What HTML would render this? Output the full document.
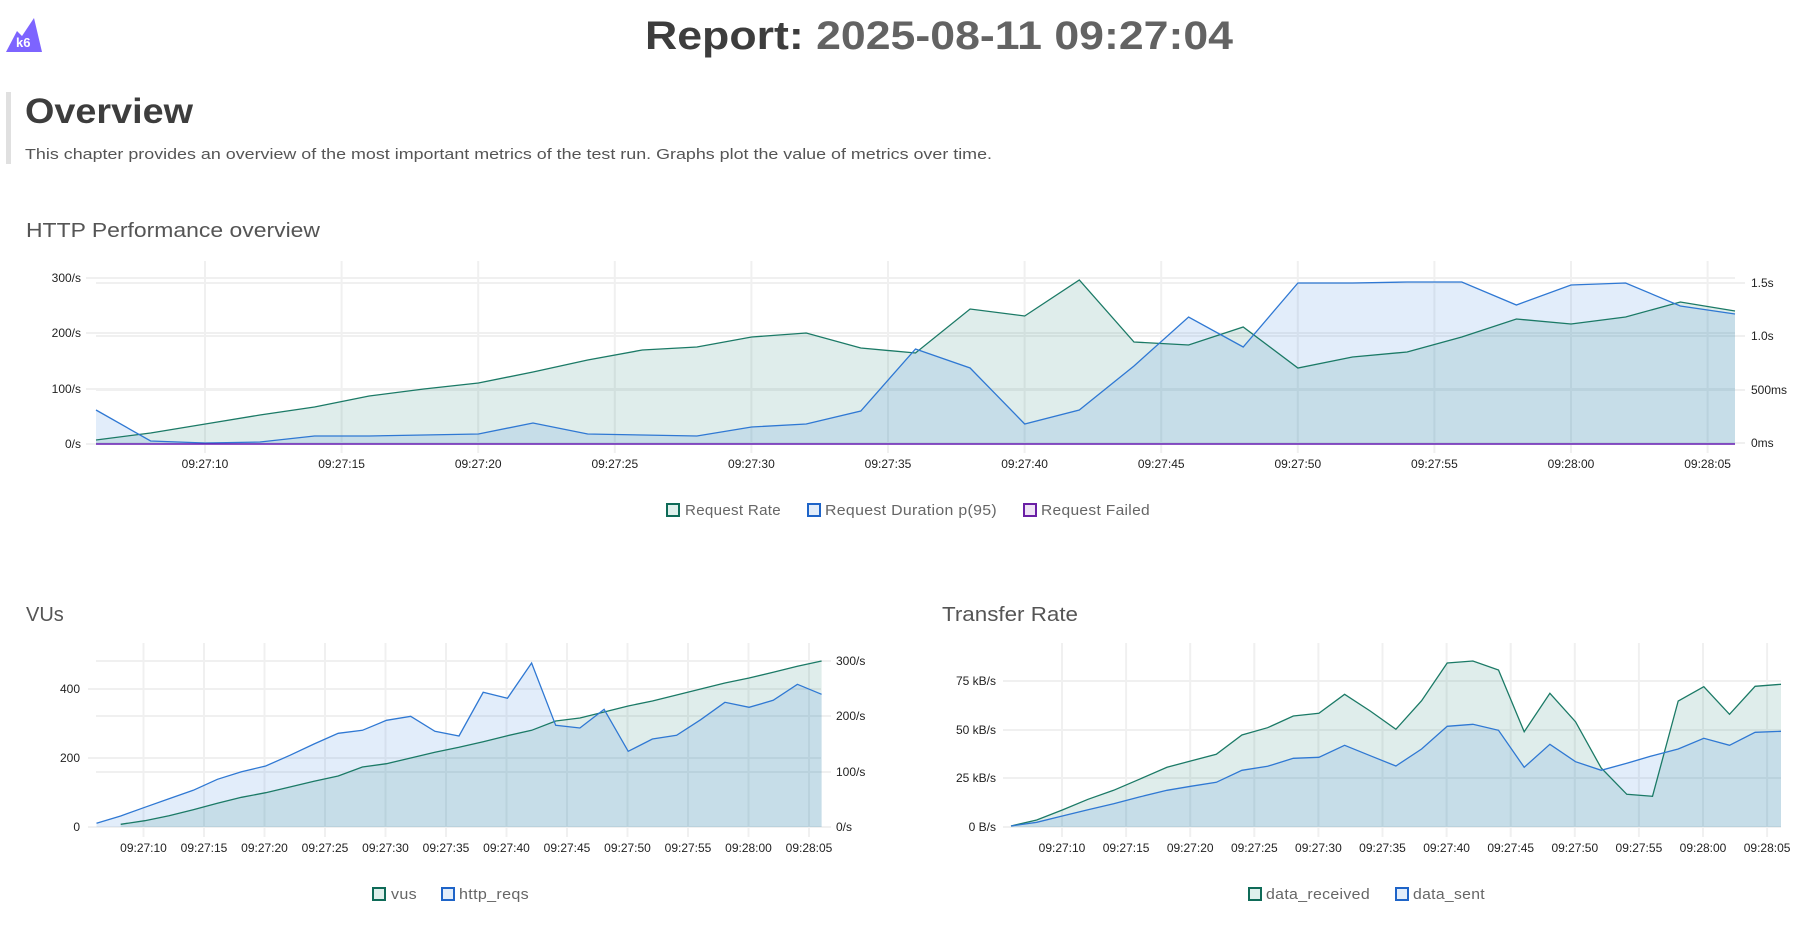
<!DOCTYPE html>
<html><head><meta charset="utf-8"><style>
html,body{margin:0;padding:0;background:#fff;}
svg{display:block;font-family:"Liberation Sans",sans-serif;}
.g{stroke:#f0f0f0;stroke-width:2;fill:none}
.t{font-size:12px;fill:#222}
.lg{font-size:15px;fill:#666;letter-spacing:0.3px}
.gf{fill:rgb(0,115,95);fill-opacity:0.125;stroke:none}
.bf{fill:rgb(23,111,215);fill-opacity:0.125;stroke:none}
.gl{fill:none;stroke:#1b7a66;stroke-width:1.3}
.bl{fill:none;stroke:#2f78d3;stroke-width:1.3}
</style></head><body>
<svg width="1804" height="951" viewBox="0 0 1804 951" xmlns="http://www.w3.org/2000/svg">
<!-- logo -->
<path d="M6,52 L17,31 L22,36 L34,18 L42,52 Z" fill="#7d64ff"/>
<text x="16" y="47" font-size="13" font-weight="bold" fill="#fff">k6</text>
<text x="645" y="49" font-size="40" font-weight="bold" textLength="588" lengthAdjust="spacingAndGlyphs"><tspan fill="#3d3d3d">Report:</tspan><tspan fill="#636363"> 2025-08-11 09:27:04</tspan></text>
<rect x="6" y="92" width="5" height="72" fill="#e0e0e0"/>
<text x="25" y="123" font-size="35" font-weight="bold" fill="#3d3d3d" textLength="168" lengthAdjust="spacingAndGlyphs">Overview</text>
<text x="25" y="159" font-size="15" fill="#555" textLength="967" lengthAdjust="spacingAndGlyphs">This chapter provides an overview of the most important metrics of the test run. Graphs plot the value of metrics over time.</text>
<text x="26" y="237" font-size="20" fill="#555" textLength="294" lengthAdjust="spacingAndGlyphs">HTTP Performance overview</text>

<!-- top chart grid -->
<g class="g">
<path d="M205,261V453M341.6,261V453M478.2,261V453M614.8,261V453M751.4,261V453M888,261V453M1024.6,261V453M1161.2,261V453M1297.8,261V453M1434.4,261V453M1571,261V453M1707.6,261V453"/>
<path d="M86,278H1735M86,333H1735M86,389H1735M86,444H1735"/>
<path d="M96,283H1745M96,336H1745M96,390H1745M96,443H1745"/>
</g>
<g class="t" text-anchor="end"><text x="81" y="282">300/s</text><text x="81" y="337">200/s</text><text x="81" y="393">100/s</text><text x="81" y="448">0/s</text></g>
<g class="t"><text x="1751" y="287">1.5s</text><text x="1751" y="340">1.0s</text><text x="1751" y="394">500ms</text><text x="1751" y="447">0ms</text></g>
<g class="t" text-anchor="middle">
<text x="205" y="468">09:27:10</text><text x="341.6" y="468">09:27:15</text><text x="478.2" y="468">09:27:20</text><text x="614.8" y="468">09:27:25</text><text x="751.4" y="468">09:27:30</text><text x="888" y="468">09:27:35</text><text x="1024.6" y="468">09:27:40</text><text x="1161.2" y="468">09:27:45</text><text x="1297.8" y="468">09:27:50</text><text x="1434.4" y="468">09:27:55</text><text x="1571" y="468">09:28:00</text><text x="1707.6" y="468">09:28:05</text>
</g>
<path class="gf" d="M96,444 L96,440 150.6,433 205.3,424 259.9,415 314.5,407 369.2,396 423.8,389 478.4,383 533,372 587.7,360 642.3,350 696.9,347 751.6,337 806.2,333 860.8,348 915.5,353 970.1,309 1024.7,316 1079.3,280 1134,342 1188.6,345 1243.2,327 1297.9,368 1352.5,357 1407.1,352 1461.8,337 1516.4,319 1571,324 1625.6,317 1680.3,302 1735,311 L1735,444Z"/>
<path class="bf" d="M96,444 L96,410 150.6,441 205.3,443 259.9,442 314.5,436 369.2,436 423.8,435 478.4,434 533,423 587.7,434 642.3,435 696.9,436 751.6,427 806.2,424 860.8,411 915.5,349 970.1,368 1024.7,424 1079.3,410 1134,366 1188.6,317 1243.2,347 1297.9,283 1352.5,283 1407.1,282 1461.8,282 1516.4,305 1571,285 1625.6,283 1680.3,306 1735,314 L1735,444Z"/>
<path class="gl" d="M96,440 150.6,433 205.3,424 259.9,415 314.5,407 369.2,396 423.8,389 478.4,383 533,372 587.7,360 642.3,350 696.9,347 751.6,337 806.2,333 860.8,348 915.5,353 970.1,309 1024.7,316 1079.3,280 1134,342 1188.6,345 1243.2,327 1297.9,368 1352.5,357 1407.1,352 1461.8,337 1516.4,319 1571,324 1625.6,317 1680.3,302 1735,311"/>
<path class="bl" d="M96,410 150.6,441 205.3,443 259.9,442 314.5,436 369.2,436 423.8,435 478.4,434 533,423 587.7,434 642.3,435 696.9,436 751.6,427 806.2,424 860.8,411 915.5,349 970.1,368 1024.7,424 1079.3,410 1134,366 1188.6,317 1243.2,347 1297.9,283 1352.5,283 1407.1,282 1461.8,282 1516.4,305 1571,285 1625.6,283 1680.3,306 1735,314"/>
<path d="M96,444H1735" stroke="#6a1fb5" stroke-width="1.5"/>
<!-- top legend -->
<rect x="667" y="504" width="12" height="12" fill="#dff0ec" stroke="#0f6b58" stroke-width="2"/>
<text class="lg" x="685" y="515" textLength="96" lengthAdjust="spacingAndGlyphs">Request Rate</text>
<rect x="808" y="504" width="12" height="12" fill="#e2edfa" stroke="#1e64c8" stroke-width="2"/>
<text class="lg" x="825" y="515" textLength="172" lengthAdjust="spacingAndGlyphs">Request Duration p(95)</text>
<rect x="1024" y="504" width="12" height="12" fill="#efe3f6" stroke="#6a1fa5" stroke-width="2"/>
<text class="lg" x="1041" y="515" textLength="109" lengthAdjust="spacingAndGlyphs">Request Failed</text>

<!-- VUs -->
<text x="26" y="621" font-size="20" fill="#555">VUs</text>
<g class="g">
<path d="M143.5,643V837M204,643V837M264.5,643V837M325,643V837M385.5,643V837M446,643V837M506.5,643V837M567,643V837M627.5,643V837M688,643V837M748.5,643V837M809,643V837"/>
<path d="M88,689H821M88,758H821M88,827H821"/>
<path d="M96,661H831M96,716H831M96,772H831M96,827H831"/>
</g>
<g class="t" text-anchor="end"><text x="80" y="693">400</text><text x="80" y="762">200</text><text x="80" y="831">0</text></g>
<g class="t"><text x="836" y="665">300/s</text><text x="836" y="720">200/s</text><text x="836" y="776">100/s</text><text x="836" y="831">0/s</text></g>
<g class="t" text-anchor="middle">
<text x="143.5" y="852">09:27:10</text><text x="204" y="852">09:27:15</text><text x="264.5" y="852">09:27:20</text><text x="325" y="852">09:27:25</text><text x="385.5" y="852">09:27:30</text><text x="446" y="852">09:27:35</text><text x="506.5" y="852">09:27:40</text><text x="567" y="852">09:27:45</text><text x="627.5" y="852">09:27:50</text><text x="688" y="852">09:27:55</text><text x="748.5" y="852">09:28:00</text><text x="809" y="852">09:28:05</text>
</g>
<path class="gf" d="M120.7,827 L120.7,824.3 144.8,820.7 169,815.7 193.2,809.7 217.4,803.3 241.5,797.3 265.7,792.7 289.9,787 314,781.3 338.2,776 362.4,767 386.5,763.7 410.7,758 434.9,752.3 459,747.3 483.2,741.7 507.4,735.7 531.6,730.3 555.7,721 579.9,718 604.1,712 628.2,706 652.4,701 676.6,695 700.7,689 724.9,683 749.1,678 773.2,672.3 797.4,666.3 821.6,661 L821.6,827Z"/>
<path class="bf" d="M96.5,827 L96.5,823.3 120.7,816 144.8,807.3 169,798.7 193.2,790.3 217.4,779.3 241.5,771.7 265.7,766 289.9,755.3 314,744 338.2,733.3 362.4,730.3 386.5,720.3 410.7,716.3 434.9,731.3 459,736 483.2,692.3 507.4,698.3 531.6,663 555.7,725.3 579.9,728 604.1,709.3 628.2,751.3 652.4,739 676.6,735.3 700.7,719.7 724.9,702.3 749.1,707.3 773.2,700.3 797.4,684.3 821.6,694.3 L821.6,827Z"/>
<path class="gl" d="M120.7,824.3 144.8,820.7 169,815.7 193.2,809.7 217.4,803.3 241.5,797.3 265.7,792.7 289.9,787 314,781.3 338.2,776 362.4,767 386.5,763.7 410.7,758 434.9,752.3 459,747.3 483.2,741.7 507.4,735.7 531.6,730.3 555.7,721 579.9,718 604.1,712 628.2,706 652.4,701 676.6,695 700.7,689 724.9,683 749.1,678 773.2,672.3 797.4,666.3 821.6,661"/>
<path class="bl" d="M96.5,823.3 120.7,816 144.8,807.3 169,798.7 193.2,790.3 217.4,779.3 241.5,771.7 265.7,766 289.9,755.3 314,744 338.2,733.3 362.4,730.3 386.5,720.3 410.7,716.3 434.9,731.3 459,736 483.2,692.3 507.4,698.3 531.6,663 555.7,725.3 579.9,728 604.1,709.3 628.2,751.3 652.4,739 676.6,735.3 700.7,719.7 724.9,702.3 749.1,707.3 773.2,700.3 797.4,684.3 821.6,694.3"/>
<rect x="373" y="888" width="12" height="12" fill="#dff0ec" stroke="#0f6b58" stroke-width="2"/>
<text class="lg" x="391" y="899" textLength="26" lengthAdjust="spacingAndGlyphs">vus</text>
<rect x="442" y="888" width="12" height="12" fill="#e2edfa" stroke="#1e64c8" stroke-width="2"/>
<text class="lg" x="459" y="899" textLength="70" lengthAdjust="spacingAndGlyphs">http_reqs</text>

<!-- Transfer Rate -->
<text x="942" y="621" font-size="20" fill="#555" textLength="136" lengthAdjust="spacingAndGlyphs">Transfer Rate</text>
<g class="g">
<path d="M1062,643V837M1126.1,643V837M1190.2,643V837M1254.3,643V837M1318.4,643V837M1382.5,643V837M1446.6,643V837M1510.7,643V837M1574.8,643V837M1638.9,643V837M1703,643V837M1767.1,643V837"/>
<path d="M1003,681H1781M1003,730H1781M1003,778H1781M1003,827H1781"/>
</g>
<g class="t" text-anchor="end"><text x="996" y="685">75 kB/s</text><text x="996" y="734">50 kB/s</text><text x="996" y="782">25 kB/s</text><text x="996" y="831">0 B/s</text></g>
<g class="t" text-anchor="middle">
<text x="1062" y="852">09:27:10</text><text x="1126.1" y="852">09:27:15</text><text x="1190.2" y="852">09:27:20</text><text x="1254.3" y="852">09:27:25</text><text x="1318.4" y="852">09:27:30</text><text x="1382.5" y="852">09:27:35</text><text x="1446.6" y="852">09:27:40</text><text x="1510.7" y="852">09:27:45</text><text x="1574.8" y="852">09:27:50</text><text x="1638.9" y="852">09:27:55</text><text x="1703" y="852">09:28:00</text><text x="1767.1" y="852">09:28:05</text>
</g>
<path class="gf" d="M1011,827 L1011,826 1036.7,820 1062.3,810 1088,799.3 1113.6,790.3 1139.3,779.3 1167,767.3 1190.6,761 1216.3,754.3 1241.9,735 1267.6,727.7 1293.3,716 1318.9,713.3 1344.6,694.3 1370.2,711 1395.9,729.3 1421.6,700.7 1447.2,663 1472.9,661 1498.5,670 1524.2,731.7 1549.9,693.3 1575.5,721.7 1601.2,768 1626.8,794.3 1652.5,796.3 1678.2,701 1703.8,686.7 1729.5,714.3 1755.1,686.3 1781,684.3 L1781,827Z"/>
<path class="bf" d="M1011,827 L1011,826 1036.7,822.3 1062.3,816 1088,809.7 1113.6,803.7 1139.3,797 1167,790.3 1190.6,786.3 1216.3,782.3 1241.9,770.3 1267.6,766.3 1293.3,758.3 1318.9,757.3 1344.6,745.3 1370.2,755.7 1395.9,766 1421.6,749 1447.2,726.3 1472.9,724.3 1498.5,730.3 1524.2,767.3 1549.9,744.3 1575.5,761.7 1601.2,770.3 1626.8,763.3 1652.5,755.7 1678.2,749 1703.8,738.3 1729.5,745.3 1755.1,732.3 1781,731.3 L1781,827Z"/>
<path class="gl" d="M1011,826 1036.7,820 1062.3,810 1088,799.3 1113.6,790.3 1139.3,779.3 1167,767.3 1190.6,761 1216.3,754.3 1241.9,735 1267.6,727.7 1293.3,716 1318.9,713.3 1344.6,694.3 1370.2,711 1395.9,729.3 1421.6,700.7 1447.2,663 1472.9,661 1498.5,670 1524.2,731.7 1549.9,693.3 1575.5,721.7 1601.2,768 1626.8,794.3 1652.5,796.3 1678.2,701 1703.8,686.7 1729.5,714.3 1755.1,686.3 1781,684.3"/>
<path class="bl" d="M1011,826 1036.7,822.3 1062.3,816 1088,809.7 1113.6,803.7 1139.3,797 1167,790.3 1190.6,786.3 1216.3,782.3 1241.9,770.3 1267.6,766.3 1293.3,758.3 1318.9,757.3 1344.6,745.3 1370.2,755.7 1395.9,766 1421.6,749 1447.2,726.3 1472.9,724.3 1498.5,730.3 1524.2,767.3 1549.9,744.3 1575.5,761.7 1601.2,770.3 1626.8,763.3 1652.5,755.7 1678.2,749 1703.8,738.3 1729.5,745.3 1755.1,732.3 1781,731.3"/>
<rect x="1249" y="888" width="12" height="12" fill="#dff0ec" stroke="#0f6b58" stroke-width="2"/>
<text class="lg" x="1266" y="899" textLength="104" lengthAdjust="spacingAndGlyphs">data_received</text>
<rect x="1396" y="888" width="12" height="12" fill="#e2edfa" stroke="#1e64c8" stroke-width="2"/>
<text class="lg" x="1413" y="899" textLength="72" lengthAdjust="spacingAndGlyphs">data_sent</text>
</svg>
</body></html>
